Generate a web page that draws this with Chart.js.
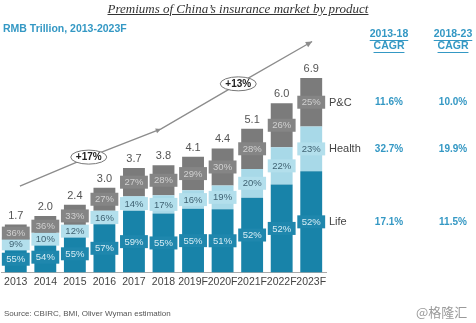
<!DOCTYPE html>
<html><head><meta charset="utf-8">
<script src="https://cdn.jsdelivr.net/npm/chart.js@4.4.1/dist/chart.umd.min.js"></script>
<style>
html,body{margin:0;padding:0;background:#fff;}
#wrap{position:relative;width:476px;height:323px;overflow:hidden;}
canvas{position:absolute;left:0;top:0;}
#title{position:absolute;left:0;width:476px;top:1px;text-align:center;font:italic 13px "Liberation Serif","DejaVu Serif",serif;color:#333;text-decoration:underline;}
#sub{position:absolute;left:3px;top:22px;font:bold 10.5px "Liberation Sans",Arial,sans-serif;color:#3498c4;}
#src{position:absolute;left:4px;top:309px;font:8px "Liberation Sans",Arial,sans-serif;color:#555;}
#wm{position:absolute;left:416px;top:302px;font:13px "Noto Sans CJK SC",sans-serif;color:#9a9a9a;}
</style></head>
<body><div id="wrap">
<canvas id="c" width="476" height="323"></canvas>
<div id="title">Premiums of China’s insurance market by product</div>
<div id="sub">RMB Trillion, 2013-2023F</div>
<div id="src">Source: CBIRC, BMI, Oliver Wyman estimation</div>
<div id="wm">@格隆汇</div>
</div>
<script>
const years = ['2013','2014','2015','2016','2017','2018','2019F','2020F','2021F','2022F','2023F'];
const totals = [1.7,2.0,2.4,3.0,3.7,3.8,4.1,4.4,5.1,6.0,6.9];
const lifeShare   = [55,54,55,57,59,55,55,51,52,52,52];
const healthShare = [9,10,12,16,14,17,16,19,20,22,23];
const pcShare     = [36,36,33,27,27,28,29,30,28,26,25];
const seriesNames = ['Life','Health','P&C'];
const cagr1318 = ['17.1%','32.7%','11.6%'];
const cagr1823 = ['11.5%','19.9%','10.0%'];
const cagrHeaders = ['2013-18','2018-23'];
// trend arrow path: [category index, value]
const trendPath = [[0.14,3.06],[2.47,4.09],[4.92,5.09],[7.53,6.69],[10.03,8.19]];
const trendLabels = [{at:1,text:'+17%'},{at:3,text:'+13%'}];

const shares = [lifeShare, healthShare, pcShare];
const segVals = shares.map(s => s.map((p,i) => totals[i]*p/100));
const barColors = ['#1883a9','#a8d9e8','#7b7b7b'];
const boxColors = ['#1f87ad','#b3dfec','#858585'];
const txtColors = ['#d6ecf4','#3f6272','#d0d0d0'];

const labelPlugin = {
  id:'labels',
  afterDatasetsDraw(chart){
    const ctx = chart.ctx, xs = chart.scales.x, ys = chart.scales.y, ca = chart.chartArea;
    ctx.save();
    // trend arrow
    const pts = trendPath.map(p => [xs.getPixelForValue(p[0]), ys.getPixelForValue(p[1])]);
    ctx.strokeStyle = '#8c8c8c'; ctx.lineWidth = 1.3;
    ctx.beginPath(); ctx.moveTo(pts[0][0],pts[0][1]);
    for (let k=1;k<pts.length;k++) ctx.lineTo(pts[k][0],pts[k][1]);
    ctx.stroke();
    function head(p, q, size){
      const a = Math.atan2(q[1]-p[1], q[0]-p[0]);
      ctx.fillStyle='#8c8c8c';
      ctx.beginPath();
      ctx.moveTo(q[0],q[1]);
      ctx.lineTo(q[0]-size*Math.cos(a-0.45), q[1]-size*Math.sin(a-0.45));
      ctx.lineTo(q[0]-size*Math.cos(a+0.45), q[1]-size*Math.sin(a+0.45));
      ctx.closePath(); ctx.fill();
    }
    head(pts[1], pts[2], 6);
    head(pts[3], pts[4], 7);
    trendLabels.forEach(l => {
      const p = pts[l.at];
      ctx.beginPath(); ctx.ellipse(p[0], p[1], 18, 7, 0, 0, Math.PI*2);
      ctx.fillStyle='#fff'; ctx.fill();
      ctx.strokeStyle='#777'; ctx.lineWidth=1; ctx.stroke();
      ctx.fillStyle='#222'; ctx.font='bold 10px "Liberation Sans", Arial, sans-serif';
      ctx.textAlign='center'; ctx.textBaseline='middle';
      ctx.fillText(l.text, p[0], p[1]+0.5);
    });
    // segment labels
    ctx.font='9.5px "Liberation Sans", Arial, sans-serif';
    ctx.textAlign='center'; ctx.textBaseline='middle';
    for (let d=0; d<3; d++){
      const meta = chart.getDatasetMeta(d);
      meta.data.forEach((el,i) => {
        const cy = (el.y + el.base)/2, w = el.width;
        ctx.fillStyle = boxColors[d];
        ctx.fillRect(el.x - w/2 - 3, cy - 6.5, w + 6, 13);
        ctx.fillStyle = txtColors[d];
        ctx.fillText(shares[d][i] + '%', el.x, cy + 0.5);
      });
    }
    // totals
    const top = chart.getDatasetMeta(2);
    ctx.fillStyle='#555'; ctx.font='11px "Liberation Sans", Arial, sans-serif';
    top.data.forEach((el,i) => ctx.fillText(totals[i].toFixed(1), el.x, el.y - 9));
    // right side labels
    const last = years.length - 1;
    const c1 = ca.right + 63, c2 = ca.right + 127;
    for (let d=0; d<3; d++){
      const el = chart.getDatasetMeta(d).data[last];
      const cy = (el.y + el.base)/2;
      ctx.textAlign='left'; ctx.fillStyle='#444'; ctx.font='11px "Liberation Sans", Arial, sans-serif';
      ctx.fillText(seriesNames[d], ca.right + 3, cy + 0.5);
      ctx.textAlign='center'; ctx.fillStyle='#3498c4'; ctx.font='bold 10px "Liberation Sans", Arial, sans-serif';
      ctx.fillText(cagr1318[d], c1, cy + 0.5);
      ctx.fillText(cagr1823[d], c2, cy + 0.5);
    }
    // headers
    ctx.font='bold 10.5px "Liberation Sans", Arial, sans-serif';
    ctx.fillStyle='#3498c4'; ctx.strokeStyle='#3498c4'; ctx.lineWidth=1;
    [c1,c2].forEach((cx,k) => {
      ctx.textAlign='center';
      ctx.fillText(cagrHeaders[k], cx, 34);
      ctx.fillText('CAGR', cx, 46);
      const w1 = ctx.measureText(cagrHeaders[k]).width, w2 = ctx.measureText('CAGR').width;
      ctx.beginPath();
      ctx.moveTo(cx-w1/2, 40.5); ctx.lineTo(cx+w1/2, 40.5);
      ctx.moveTo(cx-w2/2, 52.5); ctx.lineTo(cx+w2/2, 52.5);
      ctx.stroke();
    });
    ctx.restore();
  }
};

new Chart(document.getElementById('c'), {
  type:'bar',
  data:{
    labels: years,
    datasets: seriesNames.map((n,d) => ({label:n, data:segVals[d], backgroundColor:barColors[d], borderWidth:0}))
  },
  options:{
    responsive:false, animation:false,
    layout:{padding:{left:1, right:150, top:30, bottom:32}},
    plugins:{legend:{display:false}, tooltip:{enabled:false}},
    datasets:{bar:{categoryPercentage:1, barPercentage:0.74}},
    scales:{
      x:{stacked:true, grid:{display:false, drawTicks:false}, border:{display:true, color:'#aaa', width:1},
         ticks:{autoSkip:false, maxRotation:0, minRotation:0, padding:3, color:'#444',
                font:{size:10.5, family:'"Liberation Sans", Arial, sans-serif'}}},
      y:{stacked:true, display:false, min:0, max:8.6}
    }
  },
  plugins:[labelPlugin]
});
</script>
</body></html>
